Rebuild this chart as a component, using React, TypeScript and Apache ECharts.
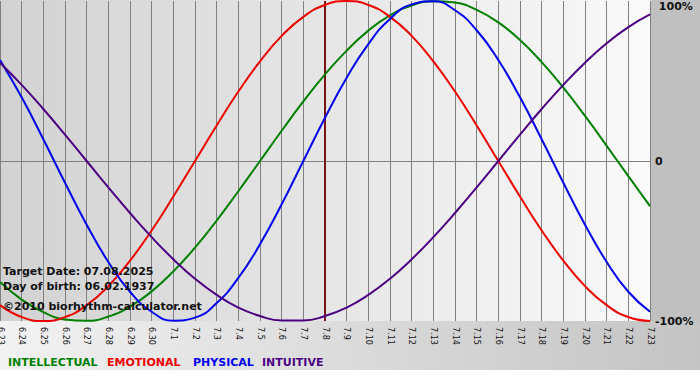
import React, { useEffect, useRef } from "react";
import * as echarts from "echarts";

const days = [
  "6.23", "6.24", "6.25", "6.26", "6.27", "6.28", "6.29", "6.30",
  "7.1", "7.2", "7.3", "7.4", "7.5", "7.6", "7.7", "7.8", "7.9", "7.10",
  "7.11", "7.12", "7.13", "7.14", "7.15", "7.16", "7.17", "7.18", "7.19",
  "7.20", "7.21", "7.22", "7.23",
];

const intellectual = [
  -0.756, -0.866, -0.945, -0.99, -0.999, -0.972, -0.91, -0.815, -0.69, -0.541,
  -0.372, -0.189, 0, 0.189, 0.372, 0.541, 0.69, 0.815, 0.91, 0.972, 0.999,
  0.99, 0.945, 0.866, 0.756, 0.618, 0.458, 0.282, 0.095, -0.095, -0.282,
];

const emotional = [
  -0.901, -0.975, -1, -0.975, -0.901, -0.782, -0.623, -0.434, -0.222, 0,
  0.222, 0.434, 0.623, 0.782, 0.901, 0.975, 1, 0.975, 0.901, 0.782, 0.623,
  0.434, 0.222, 0, -0.222, -0.434, -0.623, -0.782, -0.901, -0.975, -1,
];

const physical = [
  0.631, 0.398, 0.136, -0.136, -0.398, -0.631, -0.817, -0.942, -0.998, -0.979,
  -0.888, -0.731, -0.52, -0.27, 0, 0.27, 0.52, 0.731, 0.888, 0.979, 0.998,
  0.942, 0.817, 0.631, 0.398, 0.136, -0.136, -0.398, -0.631, -0.817, -0.942,
];

const intuitive = [
  0.614, 0.476, 0.325, 0.165, 0, -0.165, -0.325, -0.476, -0.614, -0.736,
  -0.837, -0.916, -0.969, -0.997, -0.997, -0.969, -0.916, -0.837, -0.736,
  -0.614, -0.476, -0.325, -0.165, 0, 0.165, 0.325, 0.476, 0.614, 0.736,
  0.837, 0.916,
];

const targetDay = "7.8";
const legendNames = ["INTELLECTUAL", "EMOTIONAL", "PHYSICAL", "INTUITIVE"];
const infoLines = [
  "Target Date: 07.08.2025",
  "Day of birth: 06.02.1937",
  "©2010 biorhythm-calculator.net",
];

const COLORS = {
  intellectual: "#008000",
  emotional: "#ee0000",
  physical: "#0000ee",
  intuitive: "#4b0082",
};

export default function App() {
  const ref = useRef<HTMLDivElement>(null);

  useEffect(() => {
    if (!ref.current) return;
    const chart = echarts.init(ref.current, undefined, { renderer: "svg" });
    const font = "DejaVu Sans";
    const line = (name: string, data: number[], color: string, extra: any = {}) => ({
      name,
      type: "line",
      data,
      smooth: true,
      symbol: "none",
      lineStyle: { color, width: 2 },
      itemStyle: { color },
      z: 3,
      ...extra,
    });
    const legendColors = [COLORS.intellectual, COLORS.emotional, COLORS.physical, COLORS.intuitive];
    const legendX = [8, 107, 193, 262];

    chart.setOption({
      animation: false,
      grid: {
        left: 0,
        top: 1,
        width: 650,
        height: 320,
        containLabel: false,
        outerBoundsMode: "none",
      },
      xAxis: {
        type: "category",
        data: days,
        boundaryGap: false,
        axisLine: { show: true, lineStyle: { color: "#808080", width: 1 } },
        axisTick: { show: true, length: 5, interval: 0, lineStyle: { color: "#808080" } },
        axisLabel: {
          interval: 0,
          rotate: -90,
          margin: 6,
          fontFamily: font,
          fontSize: 8,
          color: "#111",
        },
        splitLine: { show: true, interval: 0, lineStyle: { color: "#808080", width: 1 } },
      },
      yAxis: {
        type: "value",
        min: -1,
        max: 1,
        interval: 1,
        position: "right",
        axisLine: { show: false },
        axisTick: { show: false },
        axisLabel: {
          margin: 5,
          align: "left",
          fontFamily: font,
          fontWeight: "bold",
          fontSize: 11,
          color: "#111",
          formatter: (v: number) => (v === 1 ? "\n 100%" : v === -1 ? "-100%" : "0"),
        },
        splitLine: {
          show: true,
          lineStyle: { color: ["transparent", "#808080", "transparent"], width: 1 },
        },
      },
      graphic: [
        {
          type: "rect",
          z: -10,
          shape: { x: 0, y: 0, width: 651, height: 321 },
          style: {
            fill: new echarts.graphic.LinearGradient(0, 0, 1, 0, [
              { offset: 0, color: "#d2d2d2" },
              { offset: 1, color: "#fafafa" },
            ]),
          },
          silent: true,
        },
        {
          type: "rect",
          z: -10,
          shape: { x: 651, y: 0, width: 49, height: 321 },
          style: { fill: "#c0c0c0" },
          silent: true,
        },
        {
          type: "rect",
          z: -10,
          shape: { x: 0, y: 321, width: 700, height: 49 },
          style: {
            fill: new echarts.graphic.LinearGradient(0, 0, 1, 0, [
              { offset: 0, color: "#f2f2f2" },
              { offset: 1, color: "#c4c4c4" },
            ]),
          },
          silent: true,
        },
        ...infoLines.map((t, i) => ({
          type: "text",
          z: 100,
          x: 3,
          y: [271, 286, 306][i],
          style: {
            text: t,
            fill: "#111",
            font: `bold 11px "${font}"`,
            verticalAlign: "middle",
          },
          silent: true,
        })),
        ...legendNames.map((t, i) => ({
          type: "text",
          z: 100,
          x: legendX[i],
          y: 362,
          style: {
            text: t,
            fill: legendColors[i],
            font: `bold 11px "${font}"`,
            verticalAlign: "middle",
          },
          silent: true,
        })),
      ],
      series: [
        line("INTELLECTUAL", intellectual, COLORS.intellectual, {
          markLine: {
            silent: true,
            symbol: "none",
            label: { show: false },
            lineStyle: { color: "#7a1414", width: 2, type: "solid" },
            data: [{ xAxis: targetDay }],
            z: 2,
          },
        }),
        line("EMOTIONAL", emotional, COLORS.emotional),
        line("PHYSICAL", physical, COLORS.physical),
        line("INTUITIVE", intuitive, COLORS.intuitive),
      ],
    });
    return () => chart.dispose();
  }, []);

  return (
    <div
      ref={ref}
      style={{ position: "fixed", left: 0, top: 0, width: 700, height: 380, background: "#fff" }}
    />
  );
}
